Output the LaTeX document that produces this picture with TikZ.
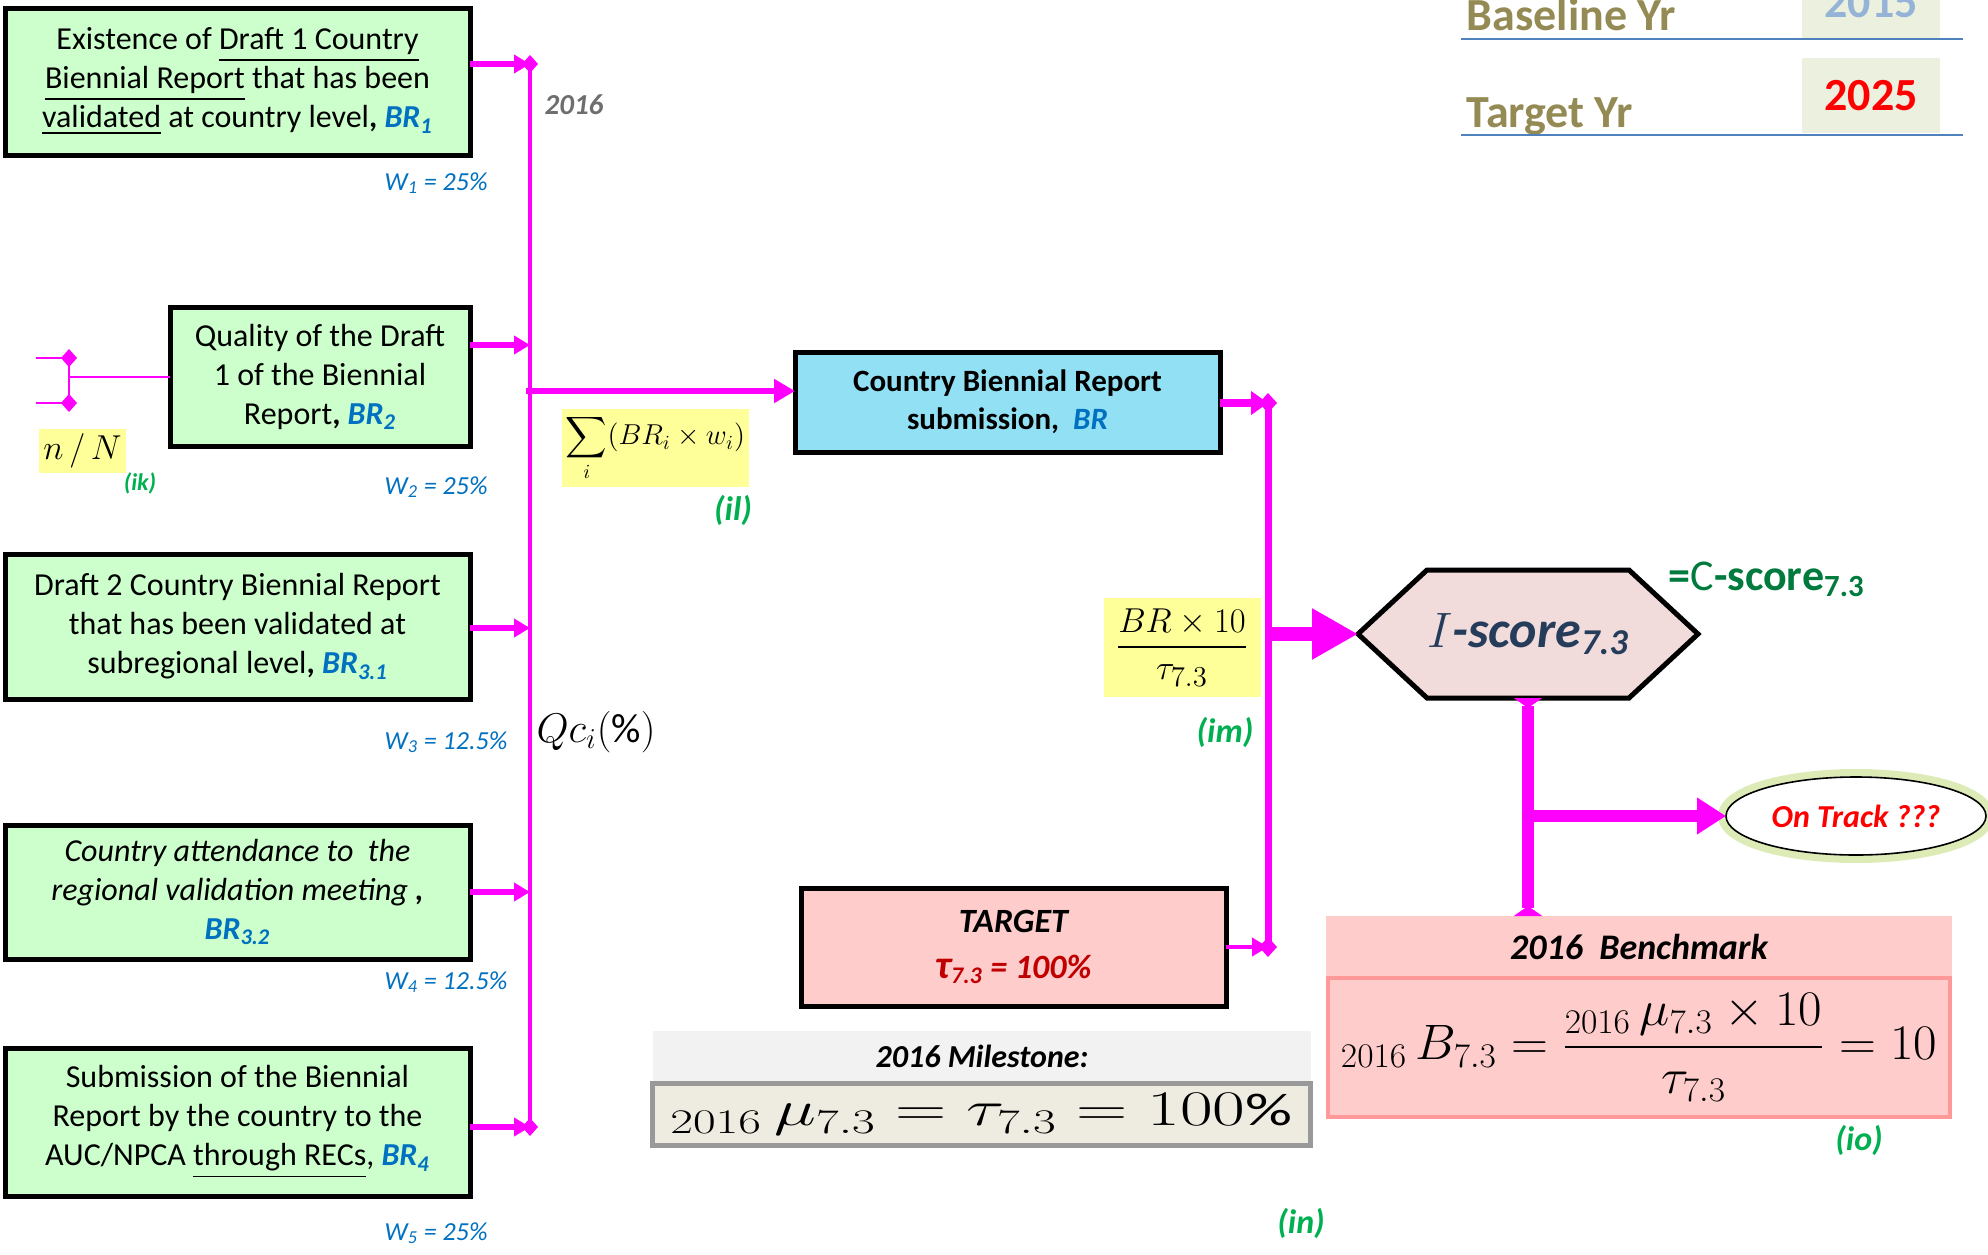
\documentclass[tikz,border=0pt]{standalone}
\usepackage{amsmath}
\usepackage{fontspec}
\setmainfont{Carlito}
\usepackage{tikz}
\usetikzlibrary{arrows.meta,positioning,backgrounds,shapes.geometric}

\definecolor{critgreen}{HTML}{CCFFCC}
\definecolor{mag}{HTML}{FF00FF}
\definecolor{brblue}{HTML}{0070C0}
\definecolor{cbrcyan}{HTML}{92E0F4}
\definecolor{tgtpink}{HTML}{FFCCCC}
\definecolor{hexfill}{HTML}{F2DCDB}
\definecolor{hexblue}{HTML}{253D5B}
\definecolor{tgreen}{HTML}{00B050}
\definecolor{cgreen}{HTML}{007A3D}
\definecolor{olive}{HTML}{948A54}
\definecolor{rulblue}{HTML}{4F81BD}
\definecolor{yrfill}{HTML}{EBF1DE}
\definecolor{yrblue}{HTML}{95B3D7}
\definecolor{darkred}{HTML}{C00000}
\definecolor{yrgray}{HTML}{6E6E6E}
\definecolor{hdrgray}{HTML}{F2F2F2}
\definecolor{msbeige}{HTML}{EEECE1}
\definecolor{msborder}{HTML}{999999}
\definecolor{bnborder}{HTML}{FF9999}
\definecolor{formyellow}{HTML}{FFFF99}
\definecolor{glow}{HTML}{D4E6A5}

\newcommand{\brlab}[1]{{\color{brblue}\bfseries\itshape BR\textsubscript{#1}}}

\begin{document}
\begin{tikzpicture}[x=0.5pt, y=-0.5pt,
  every node/.style={outer sep=0pt},
  crit/.style={draw=black, line width=2.5pt, fill=critgreen, align=center,
               font=\fontsize{16}{19.5}\selectfont},
  wlab/.style={anchor=west, text=brblue, font=\fontsize{13}{15}\selectfont\itshape},
  tag/.style={text=tgreen, font=\fontsize{17}{20}\selectfont\bfseries\itshape},
  formbox/.style={fill=formyellow, inner sep=2pt},
  feed/.style={draw=mag, line width=3pt, -{Triangle[length=8pt,width=9pt]}},
  bus/.style={draw=mag, line width=2.2pt,
              {Diamond[length=9pt,width=8pt]}-{Diamond[length=9pt,width=8pt]}},
  bigarr/.style={draw=mag, line width=7pt, -{Triangle[length=23pt,width=24pt]}},
  yrlab/.style={text=olive, font=\fontsize{23}{26}\selectfont\bfseries},
  yrline/.style={draw=rulblue, line width=1pt}
]
\clip (0,0) rectangle (1988,1254);

% criteria boxes
\node[crit, minimum width=232.5pt, minimum height=73.5pt] (br1) at (237.5,81.5)
  {Existence of \underline{Draft 1 Country}\\
   \underline{Biennial Report} that has been\\
   \underline{validated} at country level\textbf{,} \brlab{1}};
\node[crit, minimum width=150pt, minimum height=69.5pt] (br2) at (320,377)
  {Quality of the Draft\\1 of the Biennial\\Report\textbf{,} \brlab{2}};
\node[crit, minimum width=232.5pt, minimum height=72.5pt] (br31) at (237.5,626.5)
  {Draft 2 Country Biennial Report\\that has been validated at\\
   subregional level\textbf{,} \brlab{3.1}};
\node[crit, minimum width=232.5pt, minimum height=67pt,
      font=\fontsize{16}{19.5}\selectfont\itshape] (br32) at (237.5,892)
  {Country attendance to\ \ the\\regional validation meeting \textbf{,}\\\brlab{3.2}};
\node[crit, minimum width=232.5pt, minimum height=74pt] (br4) at (237.5,1122)
  {Submission of the Biennial\\Report by the country to the\\
   AUC/NPCA \underline{through RECs}, \brlab{4}};

% weights
\node[wlab] (w1) at (378,183) {W\textsubscript{1} = 25\%};
\node[wlab] (w2) at (378,487) {W\textsubscript{2} = 25\%};
\node[wlab] (w3) at (378,742) {W\textsubscript{3} = 12.5\%};
\node[wlab] (w4) at (378,982) {W\textsubscript{4} = 12.5\%};
\node[wlab] (w5) at (378,1233) {W\textsubscript{5} = 25\%};

% n/N input
\node[fill=formyellow, minimum width=43.5pt, minimum height=22pt, inner sep=1pt,
      font=\fontsize{19}{21}\selectfont] (nN) at (82.5,451) {$n\,/\,N$};
\node[tag, font=\fontsize{12}{14}\selectfont\bfseries\itshape] (ik) at (140,483) {(ik)};
\coordinate (brTop) at (69,358);
\coordinate (brBot) at (69,403);
\draw[mag, line width=0.8pt] (36,358) -- (brTop);
\draw[mag, line width=0.8pt] (36,403) -- (brBot);
\draw[mag, line width=0.8pt, {Diamond[length=9pt,width=8pt]}-{Diamond[length=9pt,width=8pt]}]
  ([yshift=4.5pt]brTop) -- ([yshift=-4.5pt]brBot);
\draw[mag, line width=0.8pt] (brTop |- br2.west) -- (br2.west);

% bus
\coordinate (j1) at (530,64);
\coordinate (j2) at (530,345);
\coordinate (j3) at (530,628);
\coordinate (j4) at (530,892);
\coordinate (j5) at (530,1127);
\coordinate (jc) at (526,391);
\draw[bus] ([yshift=4.5pt]j1) -- ([yshift=-4.5pt]j5);
\draw[feed] (br1.east |- j1) -- (j1);
\draw[feed] (br2.east |- j2) -- (j2);
\draw[feed] (br31.east |- j3) -- (j3);
\draw[feed] (br32.east |- j4) -- (j4);
\draw[feed] (br4.east |- j5) -- (j5);

\node[text=yrgray, font=\fontsize{14.5}{16}\selectfont\bfseries\itshape] (yr) at (574,105) {2016};
\node[font=\fontsize{20.5}{23}\selectfont] (qc) at (596,732) {$Qc_i(\%)$};

% country biennial report
\node[draw=black, line width=2.5pt, fill=cbrcyan, align=center,
      minimum width=212.5pt, minimum height=50pt,
      font=\fontsize{15.5}{19}\selectfont\bfseries] (cbr) at (1007.5,402)
  {Country Biennial Report\\submission,\ \ {\color{brblue}\itshape BR}};
\draw[draw=mag, line width=3.3pt, -{Triangle[length=10.5pt,width=11.5pt]}]
  (jc) -- (cbr.west |- jc);
\node[formbox, minimum width=92.5pt, minimum height=39pt,
      font=\fontsize{14}{16}\selectfont] (sumbox) at (655.5,448)
  {$\displaystyle\sum_i (BR_i\times w_i)$};
\node[tag] (il) at (733,510) {(il)};

% spine to I-score
\coordinate (spTop) at (1268,403);
\coordinate (spBot) at (1268,947);
\draw[draw=mag, line width=3.5pt,
      {Diamond[length=10pt,width=9pt]}-{Diamond[length=10pt,width=9pt]}]
  ([yshift=5pt]spTop) -- ([yshift=-5pt]spBot);
\draw[draw=mag, line width=4pt, -{Triangle[length=8.5pt,width=11.5pt]}]
  (cbr.east |- spTop) -- (spTop);

\node[draw=black, line width=2.5pt, fill=tgtpink, align=center,
      minimum width=212.5pt, minimum height=59pt,
      font=\fontsize{17}{23}\selectfont\bfseries\itshape] (target) at (1013.5,947)
  {TARGET\\{\color{darkred}{\fontsize{20}{23}\selectfont τ}\textsubscript{7.3} = 100\%}};
\draw[feed, line width=2.2pt] (target.east) -- (target.east -| spTop);

\node[formbox, minimum width=78.5pt, minimum height=49.5pt,
      font=\fontsize{19}{22}\selectfont] (fracbox) at (1182,647.5)
  {$\dfrac{BR\times 10}{\tau_{7.3}}$};
\node[tag] (im) at (1225,732) {(im)};

% I-score hexagon
\node[minimum width=170pt, minimum height=64pt, text=hexblue,
      font=\fontsize{26}{30}\selectfont\bfseries\itshape] (hex) at (1528,634)
  {$I$-score\textsubscript{7.3}};
\begin{scope}[on background layer]
\draw[draw=black, line width=2.5pt, fill=hexfill]
  (hex.west) -- ([xshift=34.5pt]hex.north west) -- ([xshift=-34.5pt]hex.north east)
  -- (hex.east) -- ([xshift=-34.5pt]hex.south east) -- ([xshift=34.5pt]hex.south west)
  -- cycle;
\end{scope}
\draw[bigarr] (spTop |- hex.west) -- (hex.west);
\node[anchor=base west, text=cgreen, font=\fontsize{22}{26}\selectfont\bfseries] (cscore)
  at (1662,590) {=$\mathrm{C}$-score\textsubscript{7.3}};

% on track
\node[ellipse, draw=black, line width=0.8pt, fill=white,
      preaction={draw=glow, line width=8pt, opacity=0.8},
      minimum width=130pt, minimum height=39pt, inner sep=0pt,
      text=red, font=\fontsize{16}{18}\selectfont\bfseries\itshape] (ontrack) at (1856,816)
  {On Track ???};

% benchmark
\node[fill=tgtpink, minimum width=313pt, minimum height=30.5pt,
      font=\fontsize{18}{20}\selectfont\bfseries\itshape] (bhead) at (1639,946.5)
  {2016\ \ Benchmark};
\node[draw=bnborder, line width=2.2pt, fill=tgtpink, minimum width=311pt,
      minimum height=69.5pt, font=\fontsize{25}{28}\selectfont] (bform) at (1639,1047.5)
  {\resizebox{298pt}{\height}{$ {}_{2016}\,B_{7.3} = \dfrac{{}_{2016}\,\mu_{7.3}\times 10}{\tau_{7.3}} = 10 $}};
\node[tag] (io) at (1859,1140) {(io)};

\draw[draw=mag, line width=6pt,
      {Triangle[reversed,length=5pt,width=14pt]}-{Triangle[reversed,length=5pt,width=14pt]}]
  (hex.south) -- (hex.south |- bhead.north);
\draw[draw=mag, line width=6pt, -{Triangle[length=14.5pt,width=17.5pt]}]
  (hex.south |- ontrack.west) -- (ontrack.west);

% milestone
\node[fill=hdrgray, minimum width=329pt, minimum height=25.5pt,
      font=\fontsize{16}{18}\selectfont\bfseries\itshape] (mshead) at (982,1056.5)
  {2016 Milestone:};
\node[draw=msborder, line width=2.5pt, fill=msbeige, minimum width=329pt,
      minimum height=31pt, font=\fontsize{23}{26}\selectfont] (msform) at (981.5,1114.5)
  {\resizebox{311pt}{\height}{$ {}_{2016}\,\mu_{7.3} = \tau_{7.3} = 100\% $}};
\node[tag] (in) at (1301,1223) {(in)};

% years
\fill[yrfill] (1802,0) rectangle (1940,39);
\node[anchor=base, text=yrblue, font=\fontsize{23}{26}\selectfont\bfseries] (yr15) at (1871,17) {2015};
\node[fill=yrfill, minimum width=69pt, minimum height=37.5pt, text=red,
      font=\fontsize{23}{26}\selectfont\bfseries] (yr25) at (1871,95.5) {2025};
\node[yrlab, anchor=base west] (baseyr) at (1460,30) {Baseline Yr};
\node[yrlab, anchor=base west] (targyr) at (1460,127) {Target Yr};
\draw[yrline] (1461,39) -- (1963,39);
\draw[yrline] (1461,135) -- (1963,135);
\end{tikzpicture}
\end{document}
